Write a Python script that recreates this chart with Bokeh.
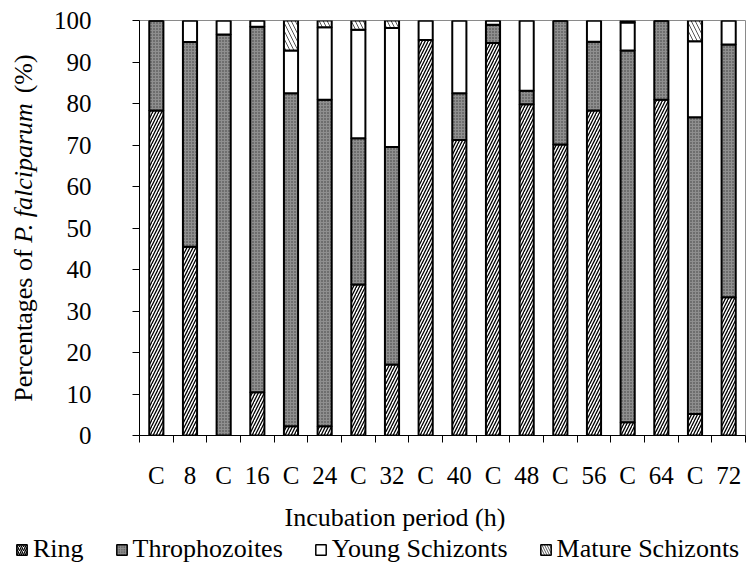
import math
from bokeh.plotting import figure
from bokeh.layouts import column, row
from bokeh.models import (Range1d, FixedTicker, Legend, LegendItem, ColumnDataSource)
from bokeh.core.properties import value
from bokeh.embed import file_html
from bokeh.resources import INLINE

categories = ["C", "8", "C", "16", "C", "24", "C", "32", "C", "40",
              "C", "48", "C", "56", "C", "64", "C", "72"]
ring = [78.3, 45.5, 0, 10.4, 2.2, 2.2, 36.4, 17.1, 95.3, 71.2, 94.6, 79.8, 70.1, 78.3, 3.2, 80.9, 5.2, 33.3]
tropho = [21.7, 49.3, 96.6, 88.1, 80.3, 78.7, 35.2, 52.4, 0, 11.3, 4.4, 3.3, 29.9, 16.6, 89.6, 19.1, 71.5, 60.9]
young = [0, 5.2, 3.4, 1.5, 10.3, 17.5, 26.2, 28.7, 4.7, 17.5, 1.0, 16.9, 0, 5.1, 6.7, 0, 18.3, 5.8]
mature = [0, 0, 0, 0, 7.2, 1.6, 2.2, 1.8, 0, 0, 0, 0, 0, 0, 0.5, 0, 5.0, 0]
series_names = ["Ring", "Throphozoites", "Young Schizonts", "Mature Schizonts"]
y_ticks = [0, 10, 20, 30, 40, 50, 60, 70, 80, 90, 100]
x_title = "Incubation period (h)"
y_title_parts = ["Percentages of", "P. falciparum", "(%)"]

FONT = "Liberation Serif"
FS = 26          # titles / legend
FS_TICK = "25px"

styles = dict(
    fill_color=["white", "#8f8f8f", "white", "white"],
    hatch_pattern=["right_diagonal_line", "dot", " ", "left_diagonal_line"],
    hatch_color=["black", "#3a3a3a", "black", "#555555"],
    hatch_scale=[6, 3, 6, 8],
    hatch_weight=[1.3, 1.2, 1, 1],
)

# ---------------- main chart ----------------
MAIN_W, MAIN_H = 696, 495
TOP, BOTTOM = 20, 60
xs = list(range(1, len(categories) + 1))
source = ColumnDataSource(dict(x=xs, ring=ring, tropho=tropho, young=young, mature=mature))

p = figure(width=MAIN_W, height=MAIN_H, output_backend="svg", toolbar_location=None,
           x_range=Range1d(0.5, len(categories) + 0.5), y_range=Range1d(0, 100),
           min_border_left=86, min_border_right=1, min_border_top=TOP, min_border_bottom=BOTTOM)

p.vbar_stack(["ring", "tropho", "young", "mature"], x="x", width=0.42, source=source,
             line_color="black", line_width=2, **styles)

p.grid.visible = False
p.outline_line_color = "#8a8a8a"
p.outline_line_width = 1

xa = p.xaxis[0]
xa.ticker = FixedTicker(ticks=xs, minor_ticks=[i + 0.5 for i in range(0, len(categories) + 1)])
xa.major_label_overrides = {x: c for x, c in zip(xs, categories)}
xa.major_tick_out = 0
xa.major_tick_in = 0
xa.minor_tick_out = 7
xa.minor_tick_in = 0
xa.minor_tick_line_color = "black"
xa.axis_line_color = "black"
xa.major_label_text_font = FONT
xa.major_label_text_font_size = FS_TICK
xa.major_label_text_color = "black"
xa.major_label_standoff = 19

ya = p.yaxis[0]
ya.ticker = FixedTicker(ticks=y_ticks, minor_ticks=[])
ya.major_tick_out = 7
ya.major_tick_in = 0
ya.minor_tick_out = 0
ya.major_tick_line_color = "black"
ya.axis_line_color = "black"
ya.major_label_text_font = FONT
ya.major_label_text_font_size = FS_TICK
ya.major_label_text_color = "black"
ya.major_label_standoff = 41

# ---------------- y-axis title strip (frame aligned with main frame) ----------------
LEFT_W = 50
F_TOP, F_BOT = TOP, MAIN_H - BOTTOM          # 20 .. 435 in page pixels
lf = figure(width=LEFT_W, height=MAIN_H, output_backend="svg", toolbar_location=None,
            x_range=Range1d(0, LEFT_W), y_range=Range1d(F_BOT, F_TOP),
            min_border_left=0, min_border_right=0, min_border_top=TOP, min_border_bottom=BOTTOM,
            x_axis_type=None, y_axis_type=None)
lf.outline_line_color = None
lf.grid.visible = False
em = FS
start = (F_TOP + F_BOT) / 2 + 13.36 * em / 2      # bottom end of the rotated title
seg_pos = [start, start - 6.109 * em, start - 11.859 * em]
seg_style = ["normal", "italic", "normal"]
for txt, yy, st in zip(y_title_parts, seg_pos, seg_style):
    lf.text(x=[23], y=[yy], text=[txt], angle=math.pi / 2,
            text_font=value(FONT), text_font_size=f"{FS}px", text_font_style=st,
            text_color="black", text_align="left", text_baseline="middle")

# ---------------- bottom strip: x title + legend ----------------
BOT_W, BOT_H = LEFT_W + MAIN_W, 69
bf = figure(width=BOT_W, height=BOT_H, output_backend="svg", toolbar_location=None,
            x_range=Range1d(0, BOT_W), y_range=Range1d(MAIN_H + BOT_H, MAIN_H),
            min_border=0, min_border_left=0, min_border_right=0, min_border_top=0,
            min_border_bottom=0, x_axis_type=None, y_axis_type=None)
bf.outline_line_color = None
bf.grid.visible = False
bf.text(x=[284], y=[517], text=[x_title], text_font=value(FONT), text_font_size=f"{FS}px",
        text_color="black", text_align="left", text_baseline="middle")

# legend-only renderers (NaN data: nothing is drawn in the strip itself)
nan = float("nan")
legend_hatch_scale = [4, 2.5, 4, 5]
legend_renderers = []
for i in range(4):
    r = bf.vbar(x=[nan], top=[nan], width=0.4, line_color="black", line_width=1.5,
                fill_color=styles["fill_color"][i], hatch_pattern=styles["hatch_pattern"][i],
                hatch_color=styles["hatch_color"][i], hatch_scale=legend_hatch_scale[i],
                hatch_weight=styles["hatch_weight"][i])
    legend_renderers.append(r)

legend = Legend(items=[LegendItem(label=n, renderers=[r]) for n, r in zip(series_names, legend_renderers)],
                orientation="horizontal", location=(15, 0),
                label_text_font=FONT, label_text_font_size=f"{FS}px", label_text_color="black",
                glyph_width=13, glyph_height=13, label_standoff=5, spacing=31, label_height=26,
                border_line_color=None, background_fill_alpha=0, padding=0, margin=0)
bf.add_layout(legend, "center")

layout = column(row(lf, p, spacing=0), bf, spacing=0)
open("out.html", "w").write(file_html(layout, INLINE))
